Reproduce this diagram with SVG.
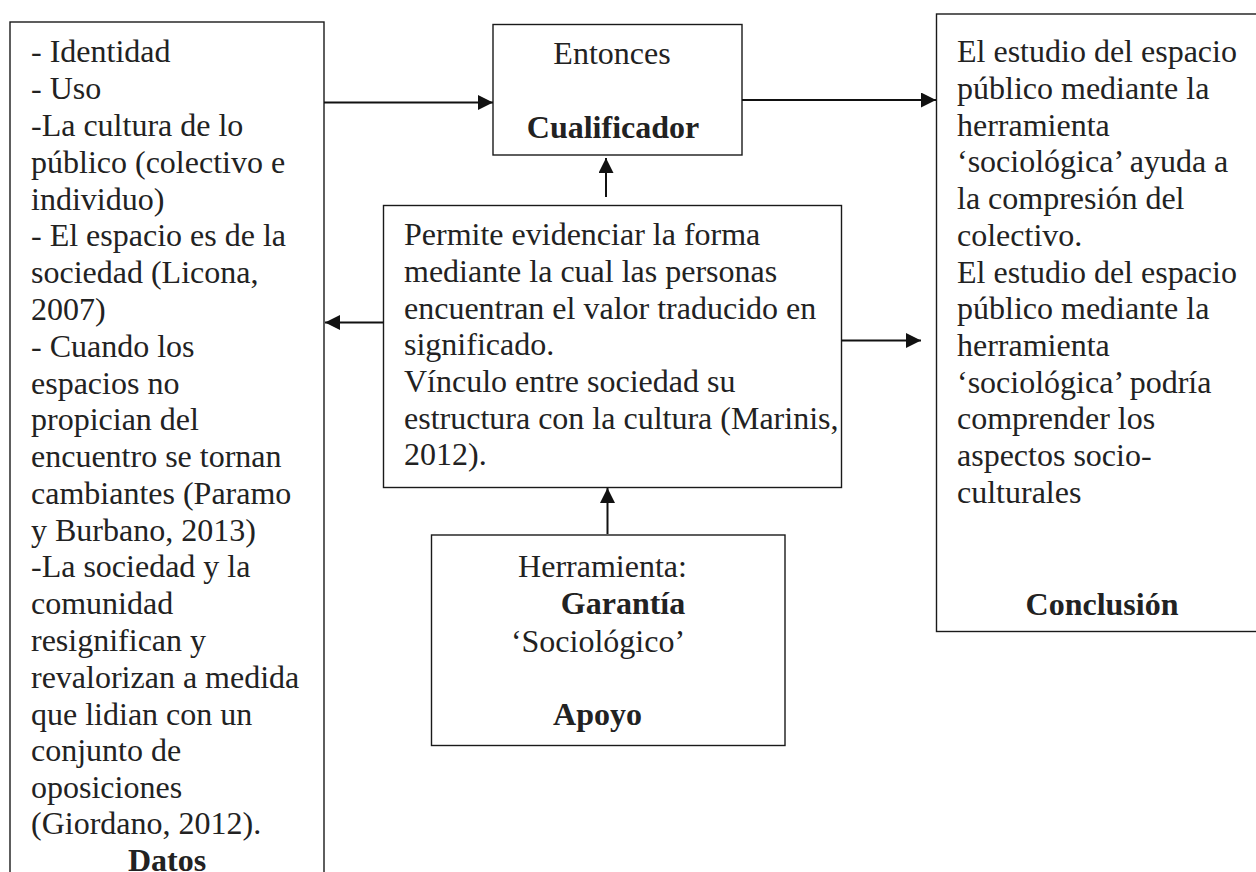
<svg xmlns="http://www.w3.org/2000/svg" width="1256" height="872" viewBox="0 0 1256 872">
<style>
.box{fill:#fff;stroke:#1a1a1a;stroke-width:1.4}
.t{font-family:"Liberation Serif","Times New Roman",serif;font-size:32px;fill:#222}
.b{font-weight:bold}
.c{text-anchor:middle}
.conn{fill:none;stroke:#111;stroke-width:2}
</style>
<defs>
<marker id="ah" markerUnits="userSpaceOnUse" markerWidth="16" markerHeight="16" refX="15" refY="7.5" orient="auto">
<path d="M0,0 L15,7.5 L0,15 z" fill="#111"/>
</marker>
</defs>
<rect x="0" y="0" width="1256" height="872" fill="#fff"/>

<g id="datos">
<rect class="box" x="10" y="22" width="314" height="880"/>
<text class="t" x="31">
<tspan x="31" y="62">- Identidad</tspan>
<tspan x="31" y="99">- Uso</tspan>
<tspan x="31" y="136">-La cultura de lo</tspan>
<tspan x="31" y="172.5">público (colectivo e</tspan>
<tspan x="31" y="209.5">individuo)</tspan>
<tspan x="31" y="246">- El espacio es de la</tspan>
<tspan x="31" y="283">sociedad (Licona,</tspan>
<tspan x="31" y="320">2007)</tspan>
<tspan x="31" y="356.5">- Cuando los</tspan>
<tspan x="31" y="393.5">espacios no</tspan>
<tspan x="31" y="430">propician del</tspan>
<tspan x="31" y="467">encuentro se tornan</tspan>
<tspan x="31" y="503.5">cambiantes (Paramo</tspan>
<tspan x="31" y="540.5">y Burbano, 2013)</tspan>
<tspan x="31" y="577">-La sociedad y la</tspan>
<tspan x="31" y="614">comunidad</tspan>
<tspan x="31" y="651">resignifican y</tspan>
<tspan x="31" y="687.5">revalorizan a medida</tspan>
<tspan x="31" y="724.5">que lidian con un</tspan>
<tspan x="31" y="761">conjunto de</tspan>
<tspan x="31" y="798">oposiciones</tspan>
<tspan x="31" y="834">(Giordano, 2012).</tspan>
</text>
<text class="t b c" x="167" y="871">Datos</text>
</g>

<g id="cualificador">
<rect class="box" x="493" y="24.5" width="249" height="130.5"/>
<text class="t c" x="612" y="64">Entonces</text>
<text class="t b c" x="613" y="138">Cualificador</text>
</g>

<g id="garantia">
<rect class="box" x="383.5" y="205.5" width="458" height="282"/>
<text class="t">
<tspan x="404" y="245">Permite evidenciar la forma</tspan>
<tspan x="404" y="281.5">mediante la cual las personas</tspan>
<tspan x="404" y="318.5">encuentran el valor traducido en</tspan>
<tspan x="404" y="355">significado.</tspan>
<tspan x="404" y="391.5">Vínculo entre sociedad su</tspan>
<tspan x="404" y="428.5">estructura con la cultura (Marinis,</tspan>
<tspan x="404" y="465">2012).</tspan>
</text>
</g>

<g id="apoyo">
<rect class="box" x="431.5" y="535" width="353.5" height="210.5"/>
<text class="t c" x="602.5" y="577">Herramienta:</text>
<text class="t b c" x="623" y="613.5">Garantía</text>
<text class="t c" x="598" y="652">‘Sociológico’</text>
<text class="t b c" x="597.5" y="725">Apoyo</text>
</g>

<g id="conclusion">
<rect class="box" x="936.5" y="14" width="340" height="617.5"/>
<text class="t">
<tspan x="957" y="62">El estudio del espacio</tspan>
<tspan x="957" y="98.5">público mediante la</tspan>
<tspan x="957" y="135.5">herramienta</tspan>
<tspan x="957" y="172">‘sociológica’ ayuda a</tspan>
<tspan x="957" y="209">la compresión del</tspan>
<tspan x="957" y="245.5">colectivo.</tspan>
<tspan x="957" y="282.5">El estudio del espacio</tspan>
<tspan x="957" y="319">público mediante la</tspan>
<tspan x="957" y="356">herramienta</tspan>
<tspan x="957" y="392.5">‘sociológica’ podría</tspan>
<tspan x="957" y="429">comprender los</tspan>
<tspan x="957" y="466">aspectos socio-</tspan>
<tspan x="957" y="502.5">culturales</tspan>
</text>
<text class="t b c" x="1102" y="615">Conclusión</text>
</g>

<g id="connectors">
<path class="conn" d="M324 102.5 H493" marker-end="url(#ah)"/>
<path class="conn" d="M742 100 H936" marker-end="url(#ah)"/>
<path class="conn" d="M606 197 V158" marker-end="url(#ah)"/>
<path class="conn" d="M383.5 322.5 H325" marker-end="url(#ah)"/>
<path class="conn" d="M841.5 340.5 H921" marker-end="url(#ah)"/>
<path class="conn" d="M607.5 534 V488" marker-end="url(#ah)"/>
</g>
</svg>
